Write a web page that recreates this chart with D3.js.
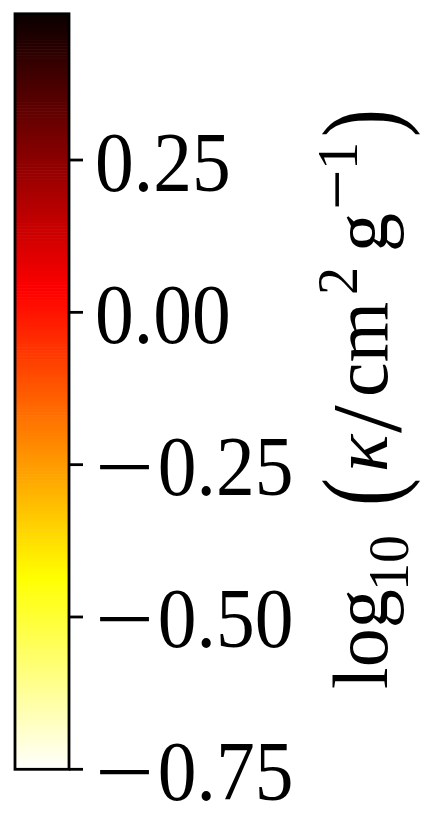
<!DOCTYPE html>
<html>
<head>
<meta charset="utf-8">
<script src="https://cdn.jsdelivr.net/npm/d3@7"></script>
<style>
body { margin: 0; background: #fff; }
text { font-family: 'Liberation Serif', 'DejaVu Serif', serif; fill: #000; }
</style>
</head>
<body>
<svg width="430" height="830"></svg>
<script>
var vMin = -0.75,
    vMax = 0.49;
var tickValues = [-0.75, -0.5, -0.25, 0, 0.25];
var tickLabels = ['0.75', '0.50', '0.25', '0.00', '0.25'];

// matplotlib 'hot' segment points (the bar uses it reversed)
var hotX = [0, 0.365079, 0.746032, 1],
    hotR = [0.0416, 1, 1, 1],
    hotG = [0, 0, 1, 1],
    hotB = [0, 0, 0, 1];
var nLevels = 256;

var svg = d3.select('svg'),
    barLeft = 15,
    barRight = 69;

var y = d3.scaleLinear().domain([vMin, vMax]).range([769.3, 13.8]);
var r = d3.scaleLinear().domain(hotX).range(hotR),
    g = d3.scaleLinear().domain(hotX).range(hotG),
    b = d3.scaleLinear().domain(hotX).range(hotB);

function hotRev(t) {
    var s = 1 - t;
    return d3.rgb(r(s) * 255, g(s) * 255, b(s) * 255);
}

var levels = d3.range(nLevels);
var step = (vMax - vMin) / nLevels;

svg.append('g').selectAll('rect')
    .data(levels)
    .enter().append('rect')
    .attr('x', barLeft)
    .attr('width', barRight - barLeft)
    .attr('y', function(i) { return y(vMin + (i + 1) * step); })
    .attr('height', function(i) { return y(vMin + i * step) - y(vMin + (i + 1) * step) + 0.6; })
    .attr('fill', function(i) { return hotRev((i + 0.5) / nLevels); });

svg.append('rect')
    .attr('x', barLeft)
    .attr('y', y(vMax))
    .attr('width', barRight - barLeft)
    .attr('height', y(vMin) - y(vMax))
    .attr('fill', 'none')
    .attr('stroke', '#000')
    .attr('stroke-width', 2.8);

var ticks = svg.append('g').selectAll('g')
    .data(tickValues)
    .enter().append('g')
    .attr('transform', function(d) { return 'translate(0,' + y(d) + ')'; });

ticks.append('line')
    .attr('x1', barRight)
    .attr('x2', barRight + 14)
    .attr('stroke', '#000')
    .attr('stroke-width', 2.8);

// long thin math minus: stretched sideways only
ticks.filter(function(d) { return d < 0; })
    .append('text')
    .attr('transform', 'translate(95,30.5) scale(1.25,1)')
    .style('font-size', '84px')
    .text('\u2212');

ticks.append('text')
    .attr('transform', 'translate(95,30.5) scale(0.923,1)')
    .attr('x', function(d) { return d < 0 ? 68 : 0; })
    .style('font-size', '84px')
    .text(function(d, i) { return tickLabels[i]; });

// axis label, rotated; local x runs up the page
var lab = svg.append('g').attr('transform', 'rotate(-90)');

var t = lab.append('text').style('font-size', '78px');
t.append('tspan').attr('x', -689).attr('y', 387).text('log');
t.append('tspan').attr('x', -591).attr('y', 408).style('font-size', '56px').text('10');
t.append('tspan').attr('x', -472).attr('y', 387).style('font-style', 'italic').text('\u03ba');
t.append('tspan').attr('x', -433).attr('y', 400).style('font-size', '100px').text('/');
t.append('tspan').attr('x', -397).attr('y', 387).text('cm');
t.append('tspan').attr('x', -295).attr('y', 357).style('font-size', '56px').text('2');
t.append('tspan').attr('x', -252).attr('y', 387).text('g');
t.append('tspan').attr('x', -210).attr('y', 361).style('font-size', '72px').text('\u2212');
t.append('tspan').attr('x', -170).attr('y', 357).style('font-size', '56px').text('1');

svg.append('text')
    .attr('transform', 'translate(397,506) rotate(-90) scale(0.78,1)')
    .style('font-size', '108px')
    .text('(');
svg.append('text')
    .attr('transform', 'translate(397,137) rotate(-90) scale(0.78,1)')
    .style('font-size', '108px')
    .text(')');
</script>
</body>
</html>
